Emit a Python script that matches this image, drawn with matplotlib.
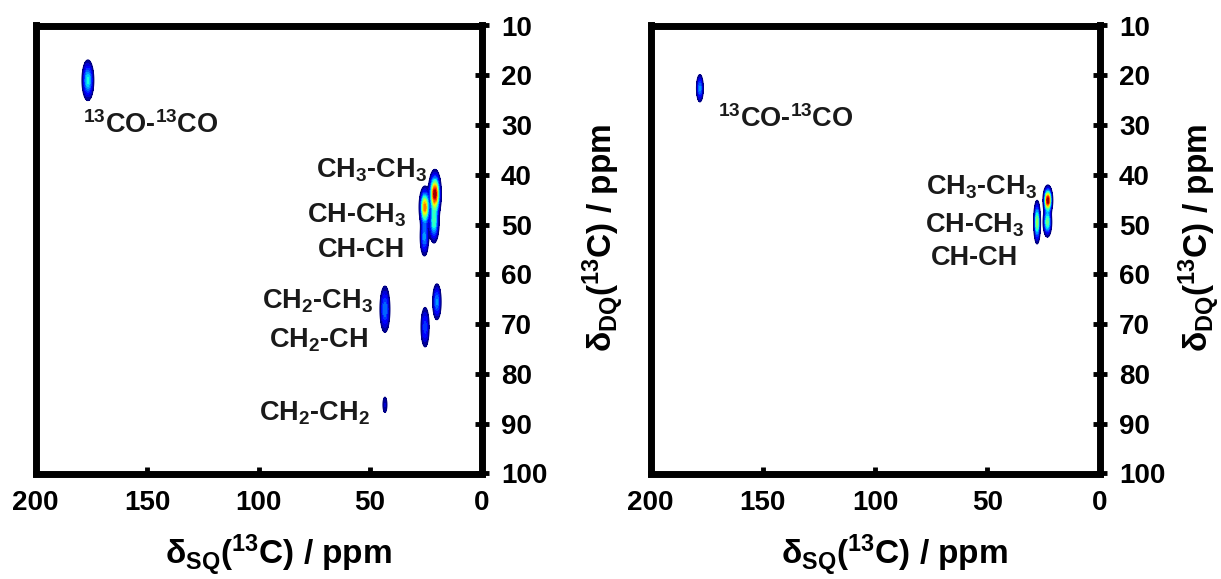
import numpy as np
import matplotlib
matplotlib.use("Agg")
import matplotlib.pyplot as plt

plt.rcParams['font.family'] = ['Liberation Sans', 'DejaVu Sans']
plt.rcParams['font.weight'] = 'bold'
plt.rcParams['mathtext.fontset'] = 'custom'
plt.rcParams['mathtext.rm'] = 'Liberation Sans:bold'
plt.rcParams['mathtext.it'] = 'Liberation Sans:bold'
plt.rcParams['mathtext.bf'] = 'Liberation Sans:bold'
plt.rcParams['mathtext.sf'] = 'Liberation Sans:bold'
plt.rcParams['mathtext.default'] = 'rm'

# ---------------- data ----------------
x_ticks = [200, 150, 100, 50, 0]
y_ticks = [10, 20, 30, 40, 50, 60, 70, 80, 90, 100]

# peaks: SQ shift (ppm), DQ shift (ppm), relative intensity, width SQ, width DQ
left_sq = [176.5, 20.9, 21.3, 25.4, 25.6, 43.3, 20.0, 25.3, 43.3]
left_dq = [21.0, 43.8, 49.5, 46.5, 52.5, 67.0, 65.5, 70.6, 86.2]
left_amp = [0.40, 1.00, 0.45, 0.80, 0.30, 0.28, 0.30, 0.22, 0.10]
left_wsq = [1.3, 1.2, 1.1, 1.1, 1.0, 1.2, 1.0, 1.05, 0.75]
left_wdq = [2.0, 2.0, 2.0, 1.8, 2.0, 2.5, 1.9, 2.3, 1.3]

right_sq = [178.0, 23.0, 23.2, 27.8]
right_dq = [22.6, 45.1, 49.5, 49.5]
right_amp = [0.30, 1.00, 0.50, 0.55]
right_wsq = [0.8, 0.9, 0.9, 0.7]
right_wdq = [1.45, 1.25, 1.4, 2.0]

# labels: text, SQ position, DQ baseline position, alignment
left_labels = [r'$^{13}$CO-$^{13}$CO', r'CH$_3$-CH$_3$', r'CH-CH$_3$', 'CH-CH',
               r'CH$_2$-CH$_3$', r'CH$_2$-CH', r'CH$_2$-CH$_2$']
left_lx = [178.7, 24.4, 33.4, 34.3, 48.7, 50.9, 50.0]
left_ly = [31.6, 40.6, 49.5, 56.5, 66.8, 74.6, 89.3]
left_ha = ['left', 'right', 'right', 'right', 'right', 'right', 'right']

right_labels = [r'$^{13}$CO-$^{13}$CO', r'CH$_3$-CH$_3$', r'CH-CH$_3$', 'CH-CH']
right_lx = [169.9, 27.9, 33.2, 36.3]
right_ly = [30.4, 44.0, 51.5, 58.1]
right_ha = ['left', 'right', 'right', 'right']

xlabel = r'δ$_{SQ}$($^{13}$C) / ppm'
ylabel = r'δ$_{DQ}$($^{13}$C) / ppm'

# ---------------- figure ----------------
W, H = 1221, 579
fig = plt.figure(figsize=(W / 100, H / 100), dpi=100)

thr = 0.05
levels = np.linspace(thr, 1.0, 21)
sq = np.linspace(0, 200, 2001)
dq = np.linspace(10, 100, 901)
SQ, DQ = np.meshgrid(sq, dq)


def spectrum(cs, cd, amps, ws, wd):
    Z = np.zeros_like(SQ)
    for a, b, c, d, e in zip(cs, cd, amps, ws, wd):
        Z += c * np.exp(-0.5 * ((SQ - a) / d) ** 2 - 0.5 * ((DQ - b) / e) ** 2)
    return np.clip(Z, 0, 1.0)


def panel(rect, cs, cd, amps, ws, wd, labels, lx, ly, ha, xlab_x, ylab_x):
    ax = fig.add_axes(rect)
    Z = spectrum(cs, cd, amps, ws, wd)
    Zm = np.ma.masked_less(Z, thr)
    ax.contourf(SQ, DQ, Zm, levels=levels, cmap='jet', vmin=thr, vmax=1.0)
    ax.contour(SQ, DQ, Z, levels=[thr], colors=['#000080'], linewidths=0.8)
    ax.set_xlim(200, 0)
    ax.set_ylim(100, 10)
    ax.set_xticks(x_ticks)
    ax.set_yticks(y_ticks)
    ax.yaxis.tick_right()
    for s in ax.spines.values():
        s.set_linewidth(5)
    ax.tick_params(axis='x', direction='in', length=5, width=3.5, pad=12,
                   labelsize=20, top=False)
    ax.tick_params(axis='y', direction='inout', length=10, width=3.5, pad=9,
                   labelsize=20, left=False, right=True)
    for lab in ax.get_xticklabels() + ax.get_yticklabels():
        lab.set_fontweight('bold')
    for t, x, y, h in zip(labels, lx, ly, ha):
        ax.text(x, y, t, ha=h, va='baseline', fontsize=19.5, fontweight='bold',
                color='#1a1a1a')
    fig.text(xlab_x / W, 1 - 565 / H, xlabel, ha='center', va='baseline',
             fontsize=24, fontweight='bold')
    fig.text(ylab_x / W, 1 - 238 / H, ylabel, ha='center', va='center',
             rotation=90, fontsize=24, fontweight='bold')
    return ax


panel([35.5 / W, 1 - 473.5 / H, 446 / W, 448 / H],
      left_sq, left_dq, left_amp, left_wsq, left_wdq,
      left_labels, left_lx, left_ly, left_ha, 278, 603)
panel([650.5 / W, 1 - 473.5 / H, 449 / W, 448 / H],
      right_sq, right_dq, right_amp, right_wsq, right_wdq,
      right_labels, right_lx, right_ly, right_ha, 894, 1199)

fig.savefig('out.png', dpi=100)
